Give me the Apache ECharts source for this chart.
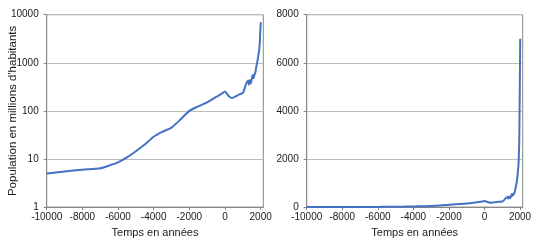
<!DOCTYPE html>
<html>
<head>
<meta charset="utf-8">
<script src="https://cdn.jsdelivr.net/npm/echarts@6/dist/echarts.min.js"></script>
<style>
html,body{margin:0;padding:0;background:#fff;}
#c{width:550px;height:243px;}
</style>
</head>
<body>
<div id="c"></div>
<script>
// Data (years, population in millions)
var years = [-10000,-9000,-8000,-7000,-6500,-6000,-5500,-5000,-4500,-4000,-3500,-3000,-2500,-2000,-1500,-1000,-500,-200,0,200,400,600,800,1000,1100,1200,1250,1300,1340,1400,1450,1500,1550,1600,1650,1700,1750,1800,1850,1900,1920,1940,1950,1960,1970,1980,1990,2000,2010];
var population = [5,5.5,6,6.4,7.3,8.5,10.8,14.5,20,29,37,45,66,100,124,150,195,225,252,205,185,200,220,235,290,380,400,430,350,440,370,450,560,480,560,620,800,980,1260,1650,1860,2300,2520,3020,3700,4440,5300,6100,7000];
var xTicks = [-10000,-8000,-6000,-4000,-2000,0,2000];
var logTicks = [1,10,100,1000,10000];
var linTicks = [0,2000,4000,6000,8000];
var xTitle = 'Temps en années';
var yTitle = "Population en millions d'habitants";

var pts = years.map(function(y,i){return [y, population[i]];});
var font = 'Liberation Sans';
var txt = '#1a1a1a';
var axisCol = '#868686';
var gridCol = '#bcbcbc';
var lineCol = '#4472C4';

function xAxis(idx){
  return {
    type:'value', gridIndex:idx, min:-10000, max:2150, interval:2000,
    name:xTitle, nameLocation:'middle', nameGap:18,
    nameTextStyle:{fontFamily:font,fontSize:11,color:txt},
    axisLine:{onZero:false,lineStyle:{color:axisCol}},
    axisTick:{show:true,length:3,lineStyle:{color:axisCol}},
    splitLine:{show:false},
    axisLabel:{fontFamily:font,fontSize:10,color:txt,margin:5,showMaxLabel:false,
      formatter:function(v){return xTicks.indexOf(v)>=0?String(v):'';}}
  };
}

var chart = echarts.init(document.getElementById('c'));
chart.setOption({
  animation:false,
  grid:[
    {left:46.7, top:14.7, width:216.6, height:193.8, show:true, borderColor:axisCol, borderWidth:1},
    {left:306.7, top:14.7, width:216, height:193.8, show:true, borderColor:axisCol, borderWidth:1}
  ],
  xAxis:[xAxis(0), xAxis(1)],
  yAxis:[
    {type:'log', gridIndex:0, logBase:10, min:logTicks[0], max:logTicks[logTicks.length-1],
     name:yTitle, nameLocation:'middle', nameGap:28, nameMoveOverlap:false,
     nameTextStyle:{fontFamily:font,fontSize:11.5,color:txt},
     axisLine:{show:true,onZero:false,lineStyle:{color:axisCol}},
     axisTick:{show:true,length:3,lineStyle:{color:axisCol}},
     splitLine:{show:true,lineStyle:{color:gridCol,width:1}},
     minorTick:{show:false},
     axisLabel:{fontFamily:font,fontSize:10,color:txt,margin:8,
       formatter:function(v){return String(Math.round(v));}}
    },
    {type:'value', gridIndex:1, min:linTicks[0], max:linTicks[linTicks.length-1], interval:2000,
     axisLine:{show:true,onZero:false,lineStyle:{color:axisCol}},
     axisTick:{show:true,length:3,lineStyle:{color:axisCol}},
     splitLine:{show:true,lineStyle:{color:gridCol,width:1}},
     axisLabel:{fontFamily:font,fontSize:10,color:txt,margin:8,
       formatter:function(v){return String(v);}}
    }
  ],
  series:[
    {type:'line', xAxisIndex:0, yAxisIndex:0, data:pts, showSymbol:false, smooth:0.2,
     lineStyle:{color:lineCol,width:2}},
    {type:'line', xAxisIndex:1, yAxisIndex:1, data:pts, showSymbol:false, smooth:0.2,
     lineStyle:{color:lineCol,width:2}}
  ]
});
</script>
</body>
</html>
